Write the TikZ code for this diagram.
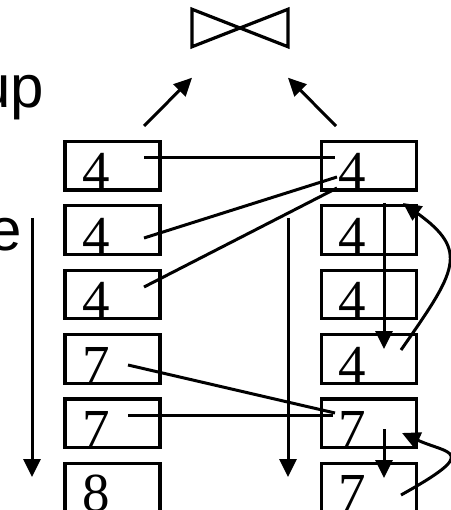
\documentclass[tikz,border=0pt]{standalone}
\usepackage{fontspec}
\setmainfont{Liberation Serif}
\newfontfamily\labelfont{Liberation Sans}
\usetikzlibrary{arrows.meta,calc}
\begin{document}
\begin{tikzpicture}[x=1pt,y=-1pt,
  boxnode/.style={draw, line width=3.3pt, minimum width=95pt, minimum height=48.5pt, inner sep=0pt, outer sep=0pt},
  digit/.style={anchor=base, inner sep=0pt, font=\fontsize{55}{55}\selectfont},
  sidetext/.style={anchor=base east, inner sep=0pt, font=\labelfont\fontsize{60}{60}\selectfont},
  conn/.style={line width=3pt},
  arr/.style={line width=3pt, -{Triangle[length=18pt,width=17pt]}},
  bowtie/.style={line width=3.2pt, line join=miter},
]
\useasboundingbox (0,0) rectangle (450,510);

% side texts (clipped at the left edge)
\node[sidetext] (tup) at (44,108) {up};
\node[sidetext] (te) at (22.5,250) {e};

% join symbol
\node[minimum width=96pt, minimum height=37.5pt, inner sep=0pt, outer sep=0pt] (join) at (240,28) {};
\draw[bowtie] (join.north west) -- (join.south east) -- (join.north east) -- (join.south west) -- cycle;

% boxes
\foreach \i/\yy/\a/\b in {1/165.7/4/4, 2/230.1/4/4, 3/294.5/4/4, 4/358.9/7/4, 5/423.3/7/7, 6/487.7/8/7}{
  \node[boxnode] (L\i) at (112.5,\yy) {};
  \node[boxnode] (R\i) at (369,\yy) {};
  \node[digit] (dL\i) at ($(L\i.south west)+(31,0)$) {\a};
  \node[digit] (dR\i) at ($(R\i.south west)+(31,0)$) {\b};
}

% arrows to the join
\draw[arr] ($(L1.center)+(31.5,-39.7)$) -- ($(join.south west)+(0,31)$);
\draw[arr] ($(R1.center)+(-33,-39.7)$) -- ($(join.south east)+(0,31)$);

% matching lines
\draw[conn] ($(L1.center)+(31.5,-7.7)$) -- ($(R1.center)+(-34,-7.7)$);
\draw[conn] ($(L2.center)+(31.5,7.9)$) -- ($(R1.center)+(-32,11.3)$);
\draw[conn] ($(L3.center)+(31.5,-7.5)$) -- ($(R1.center)+(-32,22.3)$);
\draw[conn] ($(L4.center)+(15.5,6.1)$) -- ($(R5.center)+(-34,-10.3)$);
\draw[conn] ($(L5.center)+(15.5,-8.3)$) -- ($(R5.center)+(-36,-8.3)$);

% scan arrows
\coordinate (ls) at (32,218);
\coordinate (le) at (32,477);
\coordinate (ms) at (288,218);
\coordinate (me) at (288,477);
\draw[arr] (ls) -- (le);
\draw[arr] (ms) -- (me);

% inner group arrows
\draw[arr] ($(R1.center)+(15,37.3)$) -- ($(R4.center)+(15,-9.9)$);
\draw[arr] ($(R5.center)+(15,5.7)$) -- ($(R6.center)+(15,-9.7)$);
\draw[arr] ($(R4.center)+(32,-8.9)$) .. controls (456,271) and (470,251) .. ($(R2.center)+(34,-27.1)$);
\draw[arr] ($(R6.center)+(32,7.3)$) .. controls (482,450) and (448,454) .. ($(R5.center)+(33,9.7)$);
\end{tikzpicture}
\end{document}
